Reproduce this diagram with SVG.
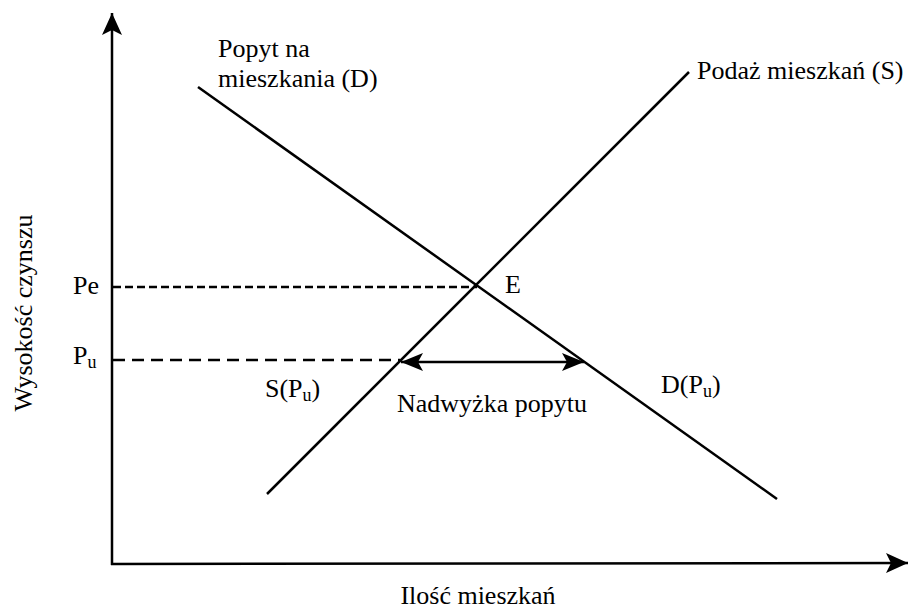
<svg xmlns="http://www.w3.org/2000/svg" width="909" height="610" viewBox="0 0 909 610">
<style>
text{font-family:'Liberation Serif','Times New Roman',Times,serif;font-size:26px;fill:#000}
.sub{font-size:18px}
.ln{stroke:#000;stroke-width:2.5;fill:none}
.d1{stroke:#000;stroke-width:2.5;fill:none;stroke-dasharray:8,4}
.d2{stroke:#000;stroke-width:2.5;fill:none;stroke-dasharray:12,7}
</style>
<defs>
<marker id="big" viewBox="0 -10 22 20" refX="22" refY="0" markerWidth="22" markerHeight="20" markerUnits="userSpaceOnUse" orient="auto-start-reverse">
<path d="M0,-10 L22,0 L0,10 L5,0 Z" fill="#000"/>
</marker>
<marker id="small" viewBox="0 -9 22 18" refX="22" refY="0" markerWidth="22" markerHeight="18" markerUnits="userSpaceOnUse" orient="auto-start-reverse">
<path d="M0,-9 L22,0 L0,9 L5,0 Z" fill="#000"/>
</marker>
</defs>
<rect width="909" height="610" fill="#fff"/>
<g id="connectors">
<line class="ln" x1="112" y1="565" x2="112" y2="13" marker-end="url(#big)"/>
<line class="ln" x1="111" y1="564" x2="908" y2="563" marker-end="url(#big)"/>
<line class="d1" x1="113" y1="287" x2="477" y2="287"/>
<line class="d2" x1="113" y1="360" x2="400" y2="360"/>
<line class="ln" x1="198" y1="87" x2="777" y2="499"/>
<line class="ln" x1="267" y1="494" x2="689" y2="72"/>
<line class="ln" x1="401" y1="362" x2="584" y2="362" marker-start="url(#small)" marker-end="url(#small)"/>
</g>
<g font-family="Liberation Serif, Times New Roman, serif" font-size="26">
<g id="label-demand"><text x="218" y="57">Popyt na</text><text x="218" y="87">mieszkania (D)</text></g>
<g id="label-supply"><text x="697" y="79">Podaż mieszkań (S)</text></g>
<g id="label-E"><text x="505" y="293">E</text></g>
<g id="label-Pe"><text x="73" y="294">Pe</text></g>
<g id="label-Pu"><text x="73" y="364">P<tspan class="sub" dy="4">u</tspan></text></g>
<g id="label-SPu"><text x="265" y="397">S(P<tspan class="sub" dy="4">u</tspan><tspan dy="-4">)</tspan></text></g>
<g id="label-DPu"><text x="661" y="393">D(P<tspan class="sub" dy="4">u</tspan><tspan dy="-4">)</tspan></text></g>
<g id="label-excess"><text x="397" y="412">Nadwyżka popytu</text></g>
<g id="label-xaxis"><text x="478" y="604" text-anchor="middle">Ilość mieszkań</text></g>
<g id="label-yaxis"><text transform="translate(32,313) rotate(-90)" text-anchor="middle">Wysokość czynszu</text></g>
</g>
</svg>
